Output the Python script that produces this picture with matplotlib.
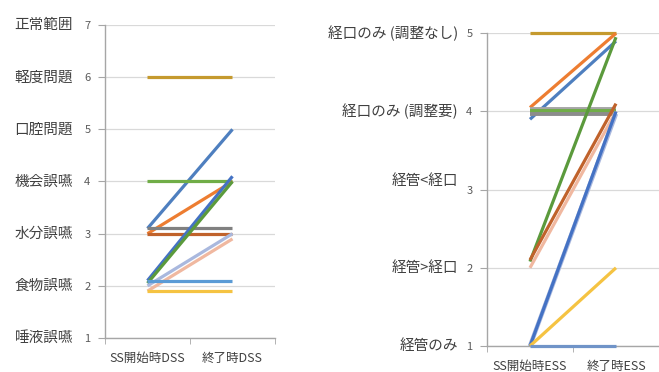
import matplotlib.pyplot as plt

plt.rcParams['font.family'] = ['Noto Sans CJK JP', 'DejaVu Sans']

# left chart: DSS
dss_cats = ["SS開始時DSS", "終了時DSS"]
dss_levels = ["唾液誤嚥", "食物誤嚥", "水分誤嚥", "機会誤嚥", "口腔問題", "軽度問題", "正常範囲"]
dss_start = [6, 3.1, 4, 3, 3.1, 3, 2.1, 2.05, 2, 1.9, 2.1, 1.9]
dss_end = [6, 5, 4, 4, 3.1, 3, 4.1, 4, 3, 2.9, 2.1, 1.9]
dss_colors = ['#C59A2E', '#4E7FBF', '#70AD47', '#ED7D31', '#808080', '#C0622B',
              '#4472C4', '#5B9A3C', '#A9B8DE', '#F0B8A0', '#5B9BD5', '#F5C342']

# right chart: ESS
ess_cats = ["SS開始時ESS", "終了時ESS"]
ess_levels = ["経管のみ", "経管>経口", "経管<経口", "経口のみ (調整要)", "経口のみ (調整なし)"]
ess_start = [5, 4.05, 3.9, 4.03, 4, 3.97, 2.08, 2.1, 2, 1, 1, 1, 1]
ess_end = [5, 5, 4.9, 4.03, 4, 3.97, 4.95, 4.1, 4, 3.97, 4, 2, 1]
ess_colors = ['#C59A2E', '#ED7D31', '#4E7FBF', '#A5A5A5', '#70AD47', '#8C8C8C',
              '#5B9A3C', '#C0622B', '#F0B8A0', '#A9B8DE', '#4472C4', '#F5C342', '#7094C8']


def draw(ax, cats, levels, start, end, colors, label_off, label_dy=None):
    x = [1, 2]
    for s, e, c in zip(start, end, colors):
        ax.plot(x, [s, e], color=c, lw=2.3, solid_capstyle='butt',
                zorder=3, clip_on=False)
    ax.set_xlim(0.5, 2.5)
    ax.set_ylim(1, len(levels))
    ax.set_yticks(range(1, len(levels) + 1))
    ax.grid(axis='y', color='#D9D9D9', lw=0.9)
    ax.set_axisbelow(True)
    for sp in ['top', 'right']:
        ax.spines[sp].set_visible(False)
    for sp in ['left', 'bottom']:
        ax.spines[sp].set_color('#A6A6A6')
        ax.spines[sp].set_linewidth(1.0)
    ax.tick_params(axis='y', length=5, color='#A6A6A6', pad=5.5,
                   labelsize=8, labelcolor='#595959')
    ax.set_xticks(x)
    ax.set_xticklabels(cats, fontsize=9, color='#404040')
    ax.tick_params(axis='x', length=0, pad=10)
    ax.set_xticks([0.5, 1.5, 2.5], minor=True)
    ax.tick_params(axis='x', which='minor', length=4, color='#A6A6A6')
    for i, name in enumerate(levels):
        dy = label_dy[i] if label_dy else 0
        ax.annotate(name, xy=(0, i + 1), xycoords=('axes fraction', 'data'),
                    xytext=(label_off, dy), textcoords='offset points',
                    ha='right', va='center', fontsize=10.5, color='#404040',
                    annotation_clip=False)


fig = plt.figure(figsize=(6.59, 3.72), dpi=100)
ax1 = fig.add_axes([0.1593, 0.0914, 0.258, 0.8414])
ax2 = fig.add_axes([0.739, 0.0699, 0.261, 0.8406])

draw(ax1, dss_cats, dss_levels, dss_start, dss_end, dss_colors, -23)
draw(ax2, ess_cats, ess_levels, ess_start, ess_end, ess_colors, -21,
     label_dy=[0, 0, 6, 0, 0])
# the three overlapping lines at 4 form a thicker grey band
for line in ax2.lines[3:6]:
    line.set_linewidth(2.8)
# light blue sits under the blue line as a wider halo
ax2.lines[9].set_linewidth(3.2)

fig.savefig('out.png', dpi=100)
